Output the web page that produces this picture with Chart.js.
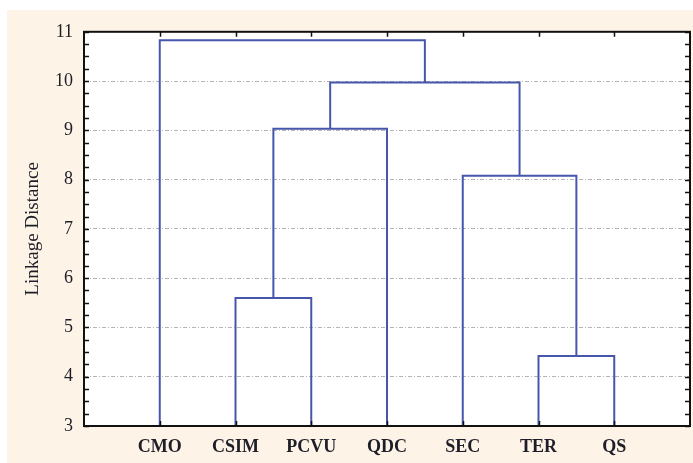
<!DOCTYPE html>
<html><head><meta charset="utf-8">
<script src="https://cdn.jsdelivr.net/npm/chart.js@4"></script>
<style>
html,body{margin:0;padding:0;background:#fff;}
#wrap{position:absolute;left:7px;top:10px;width:686px;height:453px;background:#fdf3e7;}
canvas{display:block;}
</style></head>
<body><div id="wrap"><canvas id="c" width="686" height="453"></canvas></div>
<script>
// Leaves (categories) in dendrogram order
const leaves = ['CMO', 'CSIM', 'PCVU', 'QDC', 'SEC', 'TER', 'QS'];
// Linkage: indices < leaves.length are leaves, otherwise cluster created by merge (index - leaves.length)
const mergeLeft   = [5, 1, 4, 8, 10, 0];
const mergeRight  = [6, 2, 7, 3, 9, 11];
const mergeHeight = [4.42, 5.6, 8.08, 9.03, 9.97, 10.83];
const yTicks = [3, 4, 5, 6, 7, 8, 9, 10, 11];

const baseY = yTicks[0];
const nodeX = leaves.map((_, i) => i + 1);
const nodeY = leaves.map(() => baseY);
const datasets = [];
for (let m = 0; m < mergeHeight.length; m++) {
  const a = mergeLeft[m], b = mergeRight[m], h = mergeHeight[m];
  datasets.push({
    data: [
      {x: nodeX[a], y: nodeY[a]}, {x: nodeX[a], y: h},
      {x: nodeX[b], y: h}, {x: nodeX[b], y: nodeY[b]}
    ],
    borderColor: '#4656ab', borderWidth: 2, pointRadius: 0, fill: false, tension: 0
  });
  nodeX.push((nodeX[a] + nodeX[b]) / 2);
  nodeY.push(h);
}

const FONT = 'Liberation Serif, Times New Roman, serif';
const TXT = '#1e1e28';

const bgPlugin = {
  id: 'plotbg',
  beforeDraw(chart) {
    const {ctx, chartArea: a} = chart;
    ctx.save();
    ctx.fillStyle = '#ffffff';
    ctx.fillRect(a.left, a.top, a.right - a.left, a.bottom - a.top);
    ctx.restore();
  }
};

const framePlugin = {
  id: 'frame',
  afterDraw(chart) {
    const {ctx, chartArea: a, scales: {x, y}} = chart;
    ctx.save();
    ctx.strokeStyle = '#111';
    ctx.lineWidth = 1.5;
    for (let v = y.min; v <= y.max + 1e-9; v += 0.25) {
      const py = Math.round(y.getPixelForValue(v)) + 0.5;
      ctx.beginPath();
      ctx.moveTo(a.left, py); ctx.lineTo(a.left + 5, py);
      ctx.moveTo(a.right, py); ctx.lineTo(a.right - 5, py);
      ctx.stroke();
    }
    x.ticks.forEach(t => {
      const px = Math.round(x.getPixelForValue(t.value)) + 0.5;
      ctx.beginPath();
      ctx.moveTo(px, a.top); ctx.lineTo(px, a.top + 5);
      ctx.moveTo(px, a.bottom); ctx.lineTo(px, a.bottom - 5);
      ctx.stroke();
    });
    ctx.lineWidth = 2;
    ctx.strokeRect(a.left, a.top, a.right - a.left, a.bottom - a.top);
    ctx.restore();
  }
};

new Chart(document.getElementById('c'), {
  type: 'line',
  data: {datasets},
  plugins: [bgPlugin, framePlugin],
  options: {
    responsive: false, animation: false, devicePixelRatio: 1,
    parsing: false,
    layout: {padding: {top: 20, right: 3, left: 0, bottom: 0}},
    plugins: {legend: {display: false}, tooltip: {enabled: false}},
    scales: {
      x: {
        type: 'linear', min: 0, max: leaves.length + 1,
        afterBuildTicks: s => { s.ticks = leaves.map((_, i) => ({value: i + 1})); },
        afterFit: s => { s.height = 37; },
        ticks: {
          callback: v => leaves[v - 1], autoSkip: false, maxRotation: 0,
          font: {family: FONT, size: 18, weight: 'bold'}, color: TXT, padding: 3
        },
        grid: {display: false}, border: {display: false}
      },
      y: {
        type: 'linear', min: yTicks[0], max: yTicks[yTicks.length - 1],
        afterBuildTicks: s => { s.ticks = yTicks.map(v => ({value: v})); },
        afterFit: s => { s.width = 77; },
        ticks: {font: {family: FONT, size: 18}, color: TXT, padding: 11},
        grid: {
          drawTicks: false, lineWidth: 1,
          color: c => (c.tick && (c.tick.value === yTicks[0] || c.tick.value === yTicks[yTicks.length - 1])) ? 'rgba(0,0,0,0)' : '#b4b4b4'
        },
        border: {display: false, dash: [4, 2, 1, 2]},
        title: {display: true, text: 'Linkage Distance', font: {family: FONT, size: 19}, color: TXT, padding: {top: 15, bottom: 0}}
      }
    }
  }
});
</script>
</body></html>
